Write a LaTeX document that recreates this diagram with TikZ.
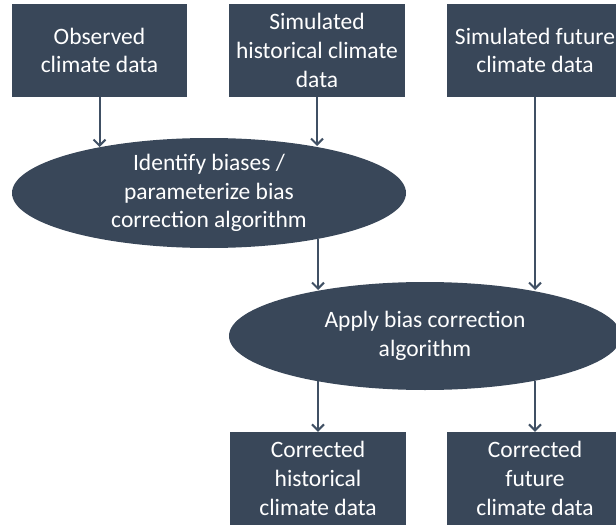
\documentclass[tikz,border=0pt]{standalone}
\usepackage{fontspec}
\setmainfont{Carlito}
\usetikzlibrary{arrows.meta,shapes.geometric}
\definecolor{slate}{RGB}{57,71,89}
\definecolor{arrowc}{RGB}{64,80,100}
\begin{document}
\begin{tikzpicture}[x=1pt,y=-1pt,
  txt/.style={text=white, align=center, inner sep=0pt, font=\fontsize{23.5}{28.7}\selectfont},
  box/.style={txt, rectangle, fill=slate, minimum width=176pt, minimum height=93pt},
  oval/.style={ellipse, fill=slate, inner sep=0pt},
  arr/.style={draw=arrowc, line width=2pt, -{Straight Barb[length=6pt,width=12pt]}}]
\useasboundingbox (0,0) rectangle (616,527);
\clip (0,0) rectangle (616,527);

% top boxes
\node[box, minimum width=175pt] (obs) at (99.5,50.5) {Observed\\climate data};
\node[box] (simh) at (317,50.5) {Simulated\\historical climate\\data};
\node[box] (simf) at (535,50.5) {Simulated future\\climate data};

% ellipses
\node[oval, minimum width=394pt, minimum height=110pt] (e1) at (209,193) {};
\node[txt] (e1t) at (e1.center) {Identify biases /\\parameterize bias\\correction algorithm};
\node[oval, minimum width=392pt, minimum height=108pt] (e2) at (425,336) {};
\node[txt] (e2t) at (e2.center) {Apply bias correction\\algorithm};

% bottom boxes
\node[box] (corh) at (318,478.5) {Corrected\\historical\\climate data};
\node[box] (corf) at (535,478.5) {Corrected\\future\\climate data};

% arrow end points on ellipse borders
\coordinate (e1a) at (99.5,147);
\coordinate (e1b) at (317,146);
\coordinate (e1c) at (318,239);
\coordinate (e2a) at (318,290);
\coordinate (e2b) at (535,290);
\coordinate (e2c) at (318,381);
\coordinate (e2d) at (535,381);

\draw[arr] (obs.south) -- (e1a);
\draw[arr] (simh.south) -- (e1b);
\draw[arr] (e1c) -- (e2a);
\draw[arr] (simf.south) -- (e2b);
\draw[arr] (e2c) -- (corh.north);
\draw[arr] (e2d) -- (corf.north);
\end{tikzpicture}
\end{document}
